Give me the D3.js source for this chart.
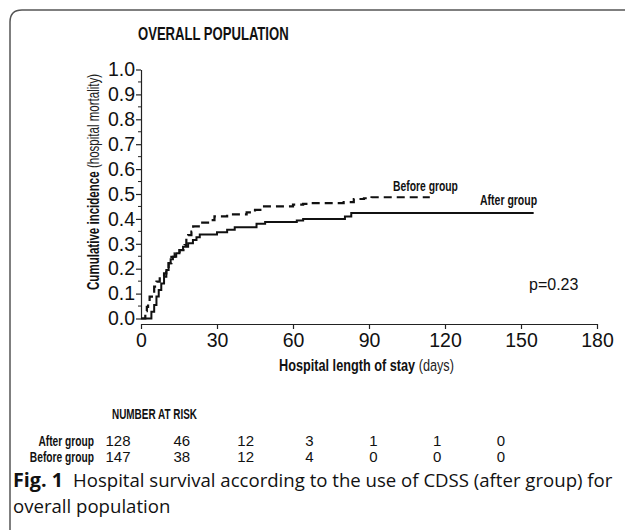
<!DOCTYPE html>
<html><head><meta charset="utf-8">
<script src="https://cdn.jsdelivr.net/npm/d3@7"></script>
<style>
html,body{margin:0;padding:0;background:#fff;}
svg{display:block;}
</style></head>
<body>
<svg id="c" width="625" height="530"></svg>
<script>
// ---- data ----
const afterDays = [0, 4.1, 5.2, 6.1, 7.0, 8.0, 9.1, 10.0, 10.9, 11.7, 12.6, 13.9, 15.2, 16.6, 18.6, 20.5, 21.9, 23.2, 30, 34, 37, 45.6, 49, 61.5, 64, 80.5, 83, 155];
const afterInc  = [0, 0.027, 0.054, 0.088, 0.114, 0.141, 0.168, 0.195, 0.222, 0.238, 0.248, 0.262, 0.275, 0.288, 0.302, 0.315, 0.326, 0.337, 0.346, 0.356, 0.366, 0.381, 0.388, 0.394, 0.400, 0.410, 0.424, 0.424];
const beforeDays = [0, 1.7, 2.3, 2.8, 3.4, 4.3, 5.2, 6.1, 7.4, 9.1, 10.0, 10.9, 12.0, 13.3, 15.2, 17.2, 17.9, 18.6, 19.9, 20.6, 23.3, 27.0, 29.0, 34.0, 41.7, 45.0, 48.0, 60.0, 64.0, 66.0, 80.0, 84.0, 88.0, 91.0, 114];
const beforeInc  = [0, 0.03, 0.047, 0.067, 0.088, 0.108, 0.128, 0.148, 0.168, 0.181, 0.200, 0.222, 0.248, 0.262, 0.275, 0.295, 0.322, 0.335, 0.349, 0.370, 0.385, 0.395, 0.410, 0.418, 0.426, 0.436, 0.450, 0.457, 0.460, 0.463, 0.467, 0.480, 0.483, 0.487, 0.487];
const xTicks = [0, 30, 60, 90, 120, 150, 180];
const yTicks = [0, 0.1, 0.2, 0.3, 0.4, 0.5, 0.6, 0.7, 0.8, 0.9, 1.0];
const riskTimes = [0, 30, 60, 90, 120, 150, 180];
const riskGroups = ["After group", "Before group"];
const riskAfter  = [128, 46, 12, 3, 1, 1, 0];
const riskBefore = [147, 38, 12, 4, 0, 0, 0];

const svg = d3.select("#c");
const SANS = "'Liberation Sans',Arial,sans-serif";
const CAP = "'Open Sans','Noto Sans',sans-serif";

// frame
svg.append("path")
  .attr("d", "M10,540 L10,22 Q10,10 22,10 L640,10")
  .attr("fill","none").attr("stroke","#555").attr("stroke-width",1.5);

const x = d3.scaleLinear().domain([0,180]).range([141,597]);
const y = d3.scaleLinear().domain([0,1]).range([318.5,69.5]);

// condensed text: horizontally scaled group
function cond(px, py, size, sx, opts){
  opts = opts || {};
  const g = svg.append("g").attr("transform",
    `translate(${px},${py})` + (opts.rotate ? ` rotate(${opts.rotate})` : "") + ` scale(${sx},1)`);
  const t = g.append("text").attr("x",0).attr("y",0).attr("font-family",SANS)
    .attr("font-size",size).attr("fill","#111")
    .attr("font-weight", opts.bold ? "bold" : "normal")
    .attr("text-anchor", opts.anchor || "start");
  if (opts.text) t.text(opts.text);
  return t;
}

// title
cond(138, 40, 18, 0.727, {bold:true, text:"OVERALL POPULATION"});

// y axis
const yAxis = svg.append("g").attr("transform","translate(141,0)")
  .call(d3.axisLeft(y).tickValues(yTicks).tickFormat(d3.format(".1f")).tickSize(5).tickSizeOuter(0));
yAxis.selectAll("text").attr("font-family",SANS).attr("font-size",19.5).attr("fill","#111").attr("x",-6);
yAxis.select(".domain").attr("stroke","#222").attr("stroke-width",1.2);
yAxis.selectAll(".tick line").attr("stroke","#222").attr("stroke-width",1.2);
const minor = d3.range(0,10).map(i => i/10 + 0.05);
svg.append("g").selectAll("line").data(minor).join("line")
  .attr("x1",141).attr("x2",138).attr("y1",d=>y(d)).attr("y2",d=>y(d))
  .attr("stroke","#222").attr("stroke-width",1);

// x axis
const xAxis = svg.append("g").attr("transform","translate(0,324)")
  .call(d3.axisBottom(x).tickValues(xTicks).tickSize(5).tickSizeOuter(0));
xAxis.selectAll("text").attr("font-family",SANS).attr("font-size",19.5).attr("fill","#111").attr("y",9);
xAxis.select(".domain").attr("stroke","#222").attr("stroke-width",1.2);
xAxis.selectAll(".tick line").attr("stroke","#222").attr("stroke-width",1.2);

// axis titles
const xt = cond(279, 371, 17, 0.747, {});
xt.append("tspan").attr("font-weight","bold").text("Hospital length of stay");
xt.append("tspan").attr("fill","#222").text(" (days)");

const yt = cond(99, 290, 17, 0.68, {rotate:-90});
yt.append("tspan").attr("font-weight","bold").text("Cumulative incidence");
yt.append("tspan").attr("fill","#222").text(" (hospital mortality)");

// curves
const line = d3.line().x(d=>x(d[0])).y(d=>y(d[1])).curve(d3.curveStepAfter);
const afterPts = afterDays.map((d,i)=>[d, afterInc[i]]);
const beforePts = beforeDays.map((d,i)=>[d, beforeInc[i]]);
svg.append("path").datum(beforePts).attr("d",line).attr("fill","none")
  .attr("stroke","#111").attr("stroke-width",2.2).attr("stroke-dasharray","8,5");
svg.append("path").datum(afterPts).attr("d",line).attr("fill","none")
  .attr("stroke","#111").attr("stroke-width",2);

// curve labels
cond(393, 191, 14, 0.74, {bold:true, text:"Before group"});
cond(480, 205, 14, 0.75, {bold:true, text:"After group"});

svg.append("text").attr("x",529).attr("y",290).attr("font-family",SANS).attr("font-size",16).attr("fill","#111").text("p=0.23");

// number at risk
cond(112, 419, 14, 0.71, {bold:true, text:"NUMBER AT RISK"});
const rx = d3.scalePoint().domain(riskTimes).range([118,501]);
const rowY = d3.scalePoint().domain(riskGroups).range([446,462]);
const rows = [riskAfter, riskBefore];
riskGroups.forEach((g,i)=>{
  cond(94, rowY(g), 14, 0.73, {bold:true, anchor:"end", text:g});
  svg.append("g").selectAll("text").data(rows[i]).join("text")
    .attr("x",(d,j)=>rx(riskTimes[j])).attr("y",rowY(g)).attr("text-anchor","middle")
    .attr("font-family",SANS).attr("font-size",15).attr("fill","#111").text(d=>d);
});

// caption
let fs = 18;
const cap = svg.append("text").attr("x",13).attr("y",487).attr("font-family",CAP).attr("fill","#111");
const t1 = cap.append("tspan").attr("font-weight","bold").text("Fig. 1");
const t2 = cap.append("tspan").attr("dx",10).text("Hospital survival according to the use of CDSS (after group) for");
function setFs(f){ cap.attr("font-size",f); t1.attr("font-size",f*1.06); }
setFs(fs);
for (let k=0;k<4;k++){
  const bb = cap.node().getBBox();
  if (bb.width > 0) { fs = fs * (600 / bb.width); setFs(fs); }
}
svg.append("text").attr("x",13).attr("y",513).attr("font-family",CAP).attr("font-size",fs).attr("fill","#111").text("overall population");
</script>
</body></html>
